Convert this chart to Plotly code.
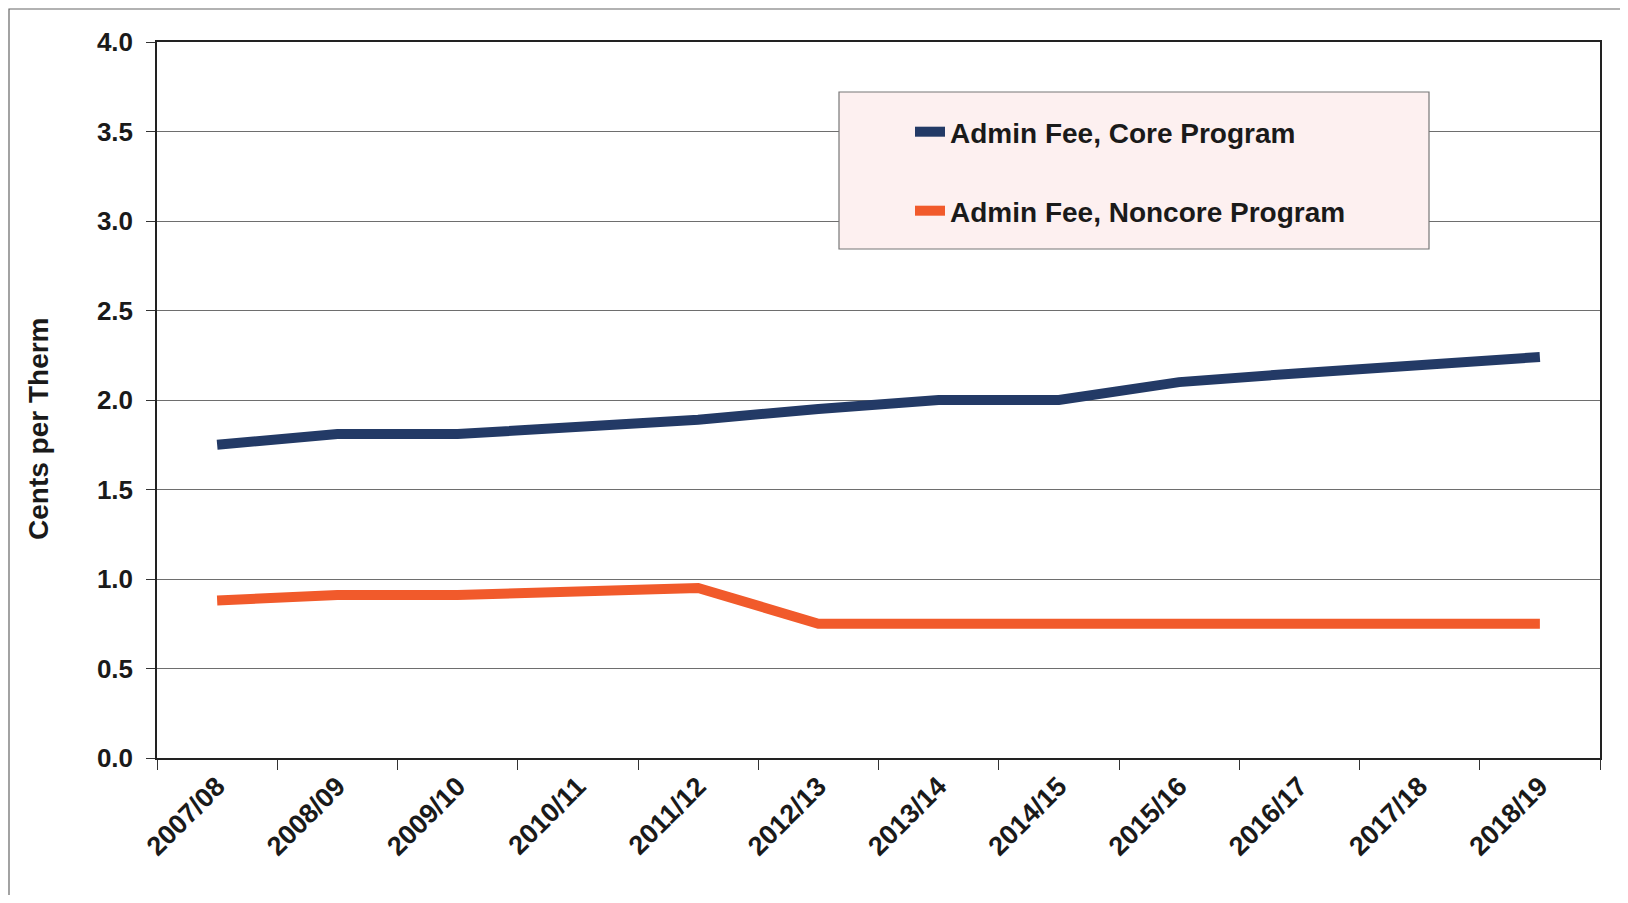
import plotly.graph_objects as go

years = ["2007/08", "2008/09", "2009/10", "2010/11", "2011/12", "2012/13",
         "2013/14", "2014/15", "2015/16", "2016/17", "2017/18", "2018/19"]
core = [1.75, 1.81, 1.81, 1.85, 1.89, 1.95, 2.00, 2.00, 2.10, 2.15, 2.20, 2.24]
noncore = [0.88, 0.91, 0.91, 0.93, 0.95, 0.75, 0.75, 0.75, 0.75, 0.75, 0.75, 0.75]
y_ticks = [0.0, 0.5, 1.0, 1.5, 2.0, 2.5, 3.0, 3.5, 4.0]

FONT = "Liberation Sans, Arial, sans-serif"
NAVY = "#233a66"
ORANGE = "#f15a2b"

# page offset (body margin) of 8 px
OFF = 8
W, H = 1628 - 2 * OFF, 903 - 2 * OFF
# plot area in page coordinates
PL, PR, PT, PB = 157, 1600, 42, 758
L, T = PL - OFF, PT - OFF
R, B = W - (PR - OFF), H - (PB - OFF)
pw, ph = PR - PL, PB - PT

def px(xp):
    return (xp - PL) / pw

def py(yp):
    return (PB - yp) / ph

fig = go.Figure()
fig.add_trace(go.Scatter(x=years, y=core, mode="lines", name="Admin Fee, Core Program",
                         line=dict(color=NAVY, width=10), legend="legend", showlegend=True))
fig.add_trace(go.Scatter(x=years, y=noncore, mode="lines", name="Admin Fee, Noncore Program",
                         line=dict(color=ORANGE, width=10), legend="legend2", showlegend=True))

legend_common = dict(bgcolor="rgba(0,0,0,0)", borderwidth=0,
                     font=dict(family=FONT, size=28, color="#1a1a1a", weight="bold"),
                     xanchor="left", yanchor="middle", itemwidth=30, visible=True)

tick_font = dict(family=FONT, size=26, color="#1a1a1a", weight="bold")

fig.update_layout(
    width=W, height=H,
    margin=dict(l=L, r=R, t=T, b=B, autoexpand=False),
    paper_bgcolor="white", plot_bgcolor="white",
    font=dict(family=FONT, color="#1a1a1a"),
    showlegend=True,
    legend=dict(x=px(910), y=py(132), **legend_common),
    legend2=dict(x=px(910), y=py(211), **legend_common),
    xaxis=dict(
        type="category", range=[-0.5, len(years) - 0.5], tickson="boundaries",
        ticks="outside", ticklen=10, tickcolor="#333", tickangle=-45,
        showline=True, linecolor="#222", linewidth=1.5, mirror=True, showgrid=False,
        tickfont=dict(family=FONT, size=27, color="#1a1a1a", weight="bold"),
    ),
    yaxis=dict(
        range=[0, 4.0], tickvals=y_ticks, ticktext=[f"{v:.1f}" for v in y_ticks],
        ticks="outside", ticklen=9, tickcolor="#333", showline=True, linecolor="#222",
        linewidth=1.5, mirror=True, showgrid=True, gridcolor="#6e6e6e", gridwidth=1,
        zeroline=False, ticklabelstandoff=8, tickfont=tick_font,
    ),
    annotations=[
        dict(text="Cents per Therm", xref="paper", yref="paper", x=px(38), y=py(429),
             xanchor="center", yanchor="middle", textangle=-90, showarrow=False,
             font=dict(family=FONT, size=28, color="#1a1a1a", weight="bold")),
    ],
    shapes=[
        dict(type="rect", xref="paper", yref="paper",
             x0=px(839), x1=px(1429), y0=py(249), y1=py(92),
             fillcolor="#fdf0f0", line=dict(color="#777", width=1.2), layer="above"),
        dict(type="rect", xref="paper", yref="paper",
             x0=px(9), x1=px(1700), y0=py(1000), y1=py(9),
             fillcolor="rgba(0,0,0,0)", line=dict(color="#666", width=1.2), layer="below"),
    ],
)

fig.write_html("out.html")
